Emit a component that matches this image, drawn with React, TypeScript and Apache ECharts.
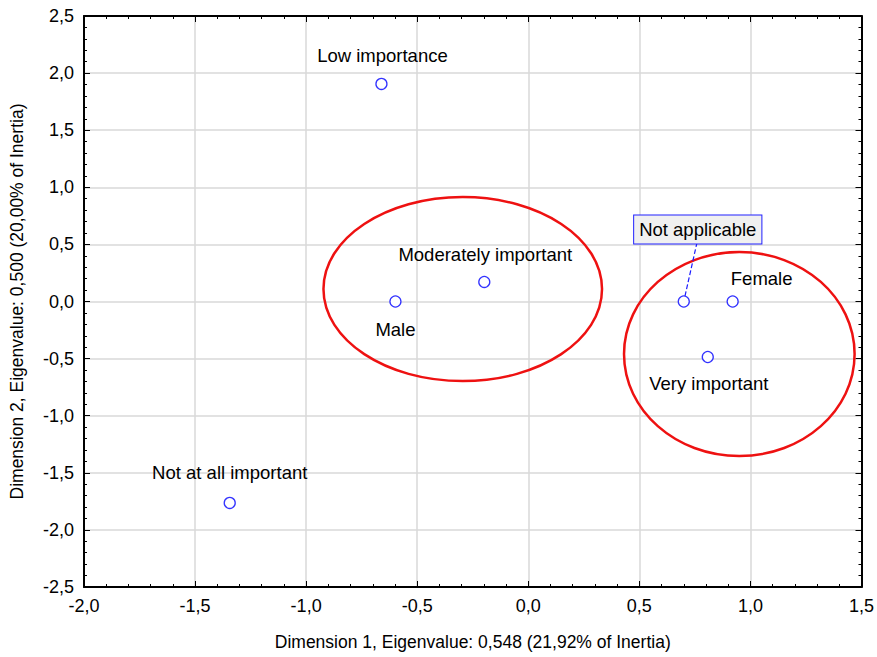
import React, { useEffect, useRef } from "react";
import * as echarts from "echarts";

const pointNames = [
  "Low importance",
  "Male",
  "Moderately important",
  "Not applicable",
  "Female",
  "Very important",
  "Not at all important",
];
const dim1Values = [-0.661, -0.598, -0.198, 0.7, 0.92, 0.808, -1.344];
const dim2Values = [1.905, 0.0, 0.171, 0.0, 0.0, -0.486, -1.764];
// label offsets (px) relative to the point
const labelOffsets: [number, number][] = [
  [1, -28],
  [0, 28],
  [1, -27],
  [14, -72],
  [29, -23],
  [1, 26],
  [0, -30],
];
// ellipses: center x, center y, radius x, radius y (data units)
const ellipseCx = [-0.295, 0.95];
const ellipseCy = [0.109, -0.46];
const ellipseRx = [0.627, 0.519];
const ellipseRy = [0.806, 0.893];

const xTitle = "Dimension 1, Eigenvalue: 0,548 (21,92% of Inertia)";
const yTitle = "Dimension 2, Eigenvalue: 0,500 (20,00% of Inertia)";

const fmt = (v: number) => v.toFixed(1).replace(".", ",");
const FONT = "'Liberation Sans', Arial, sans-serif";

export default function App() {
  const ref = useRef<HTMLDivElement>(null);
  useEffect(() => {
    if (!ref.current) return;
    const chart = echarts.init(ref.current, undefined, { renderer: "svg" });
    const scatterData = pointNames.map((n, i) => {
      const item: any = {
        name: n,
        value: [dim1Values[i], dim2Values[i]],
        label: { offset: labelOffsets[i] },
      };
      if (n === "Not applicable") {
        item.label = {
          offset: labelOffsets[i],
          backgroundColor: "#f0f0f0",
          borderColor: "#2020ff",
          borderWidth: 1,
          padding: [5, 5, 4, 5],
        };
        item.labelLine = {
          show: true,
          lineStyle: { color: "#1a1aff", type: "dashed", width: 1.2 },
        };
      }
      return item;
    });
    const ellipseData = ellipseCx.map((c, i) => [c, ellipseCy[i], ellipseRx[i], ellipseRy[i]]);
    const axisCommon = {
      interval: 0.5,
      axisLine: { show: true, onZero: false, lineStyle: { color: "#000", width: 2 } },
      axisTick: { show: true, inside: true, length: 6, lineStyle: { color: "#000" } },
      minorTick: { show: true, splitNumber: 5, length: 3, lineStyle: { color: "#000" } },
    };
    chart.setOption({
      animation: false,
      backgroundColor: "#fff",
      grid: { left: 83, right: 15, top: 16, bottom: 70 },
      xAxis: [
        {
          ...axisCommon,
          type: "value",
          min: -2,
          max: 1.5,
          position: "bottom",
          axisLabel: { formatter: fmt, color: "#000", fontSize: 18, fontFamily: FONT, margin: 10 },
          splitLine: { show: true, lineStyle: { color: "#d9d9d9", width: 1.5 } },
          name: xTitle,
          nameLocation: "middle",
          nameGap: 46,
          nameTextStyle: { color: "#000", fontSize: 17.5, fontFamily: FONT },
        },
        {
          ...axisCommon,
          type: "value",
          min: -2,
          max: 1.5,
          position: "top",
          axisLabel: { show: false },
          splitLine: { show: false },
        },
      ],
      yAxis: [
        {
          ...axisCommon,
          type: "value",
          min: -2.5,
          max: 2.5,
          position: "left",
          axisLabel: { formatter: fmt, color: "#000", fontSize: 18, fontFamily: FONT, margin: 10 },
          splitLine: { show: true, lineStyle: { color: "#d9d9d9", width: 1.5 } },
          name: yTitle,
          nameLocation: "middle",
          nameGap: 58,
          nameTextStyle: { color: "#000", fontSize: 17.5, fontFamily: FONT },
        },
        {
          ...axisCommon,
          type: "value",
          min: -2.5,
          max: 2.5,
          position: "right",
          axisLabel: { show: false },
          splitLine: { show: false },
        },
      ],
      series: [
        {
          type: "custom",
          xAxisIndex: 0,
          yAxisIndex: 0,
          silent: true,
          clip: false,
          data: ellipseData,
          encode: { x: 0, y: 1 },
          renderItem: (params: any, api: any) => {
            const c = api.coord([api.value(0), api.value(1)]);
            const s = api.size([api.value(2), api.value(3)]);
            return {
              type: "ellipse",
              shape: { cx: c[0], cy: c[1], rx: s[0], ry: s[1] },
              style: { fill: "none", stroke: "#ee1111", lineWidth: 2.5 },
            };
          },
          z: 3,
        },
        {
          type: "scatter",
          xAxisIndex: 0,
          yAxisIndex: 0,
          symbol: "circle",
          symbolSize: 11,
          itemStyle: { color: "#fff", borderColor: "#3333ff", borderWidth: 1.3, opacity: 1 },
          label: {
            show: true,
            position: "inside",
            formatter: "{b}",
            color: "#000",
            fontSize: 18.5,
            fontFamily: FONT,
          },
          data: scatterData,
          z: 4,
        },
      ],
    });
    return () => chart.dispose();
  }, []);
  return (
    <div
      ref={ref}
      style={{ position: "absolute", left: 0, top: 0, width: 877, height: 657 }}
    />
  );
}
